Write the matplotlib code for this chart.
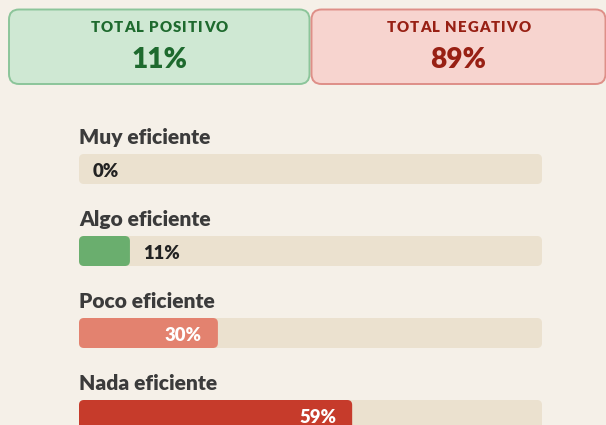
import matplotlib
matplotlib.use("Agg")
import matplotlib.pyplot as plt
from matplotlib.patches import FancyBboxPatch
from matplotlib.font_manager import FontProperties, findfont, get_font

# ---- data ----
categories = ["Muy eficiente", "Algo eficiente", "Poco eficiente", "Nada eficiente"]
values = [0, 11, 30, 59]
bar_colors = ["#6aae6e", "#6aae6e", "#e3826f", "#c63b2b"]
total_labels = ["TOTAL POSITIVO", "TOTAL NEGATIVO"]
total_values = [11, 89]

# ---- style ----
BG = "#f5f0e8"
TRACK = "#ebe1cf"
FONT = "Lato"
WEIGHT = 800
W, H = 606, 425
DPI = 100
PT = 72.0 / DPI  # px -> pt

fig = plt.figure(figsize=(W / DPI, H / DPI), dpi=DPI, facecolor=BG)
ax = fig.add_axes([0, 0, 1, 1])
ax.set_xlim(0, W)
ax.set_ylim(H, 0)
ax.axis("off")
ax.set_facecolor(BG)


def spaced_text(xc, y, s, size_px, color, spacing):
    """Centered text with letter spacing (in px)."""
    fp = FontProperties(family=FONT, weight=WEIGHT, size=size_px * PT)
    font = get_font(findfont(fp))
    font.set_size(size_px * PT, DPI)
    adv = [font.load_char(ord(ch)).linearHoriAdvance / 65536.0 for ch in s]
    total = sum(adv) + spacing * (len(s) - 1)
    x = xc - total / 2.0
    for ch, a in zip(s, adv):
        if ch != " ":
            ax.text(x, y, ch, ha="left", va="baseline", color=color,
                    fontproperties=fp)
        x += a + spacing


# ---- summary cards ----
cards = [
    dict(x0=9, x1=309.5, fill="#cfe8d3", edge="#8cc59a", text="#1e6a2e"),
    dict(x0=311.5, x1=605.5, fill="#f7d4cf", edge="#de8f88", text="#982014"),
]
for c, lab, val in zip(cards, total_labels, total_values):
    box = FancyBboxPatch((c["x0"], 9.5), c["x1"] - c["x0"], 74.5,
                         boxstyle="round,pad=0,rounding_size=10",
                         facecolor=c["fill"], edgecolor=c["edge"], linewidth=1.4)
    ax.add_patch(box)
    cx = (c["x0"] + c["x1"]) / 2.0
    spaced_text(cx, 32.3, lab, 15, c["text"], 1.0)
    ax.text(cx, 68.3, f"{val}%", ha="center", va="baseline", color=c["text"],
            fontsize=28 * PT, fontweight=WEIGHT, family=FONT)

# ---- bars ----
x0, track_w = 79, 463
bar_h = 30
first_top, step = 154, 82
for i, (cat, v, col) in enumerate(zip(categories, values, bar_colors)):
    top = first_top + i * step
    ax.text(x0, top - 10, cat, ha="left", va="baseline", color="#3b3b3b",
            fontsize=21 * PT, fontweight=WEIGHT, family=FONT)
    ax.add_patch(FancyBboxPatch((x0, top), track_w, bar_h,
                                boxstyle="round,pad=0,rounding_size=5",
                                facecolor=TRACK, edgecolor="none"))
    w = v / 100.0 * track_w
    if w > 0:
        ax.add_patch(FancyBboxPatch((x0, top), w, bar_h,
                                    boxstyle="round,pad=0,rounding_size=5",
                                    facecolor=col, edgecolor="none"))
    if v >= 20:
        ax.text(x0 + w - 16, top + 23.3, f"{v}%", ha="right", va="baseline",
                color="white", fontsize=18.5 * PT, fontweight=WEIGHT, family=FONT)
    else:
        ax.text(x0 + w + 13.5, top + 23.3, f"{v}%", ha="left", va="baseline",
                color="#222222", fontsize=18.5 * PT, fontweight=WEIGHT, family=FONT)

fig.savefig("out.png", dpi=DPI, facecolor=BG)
